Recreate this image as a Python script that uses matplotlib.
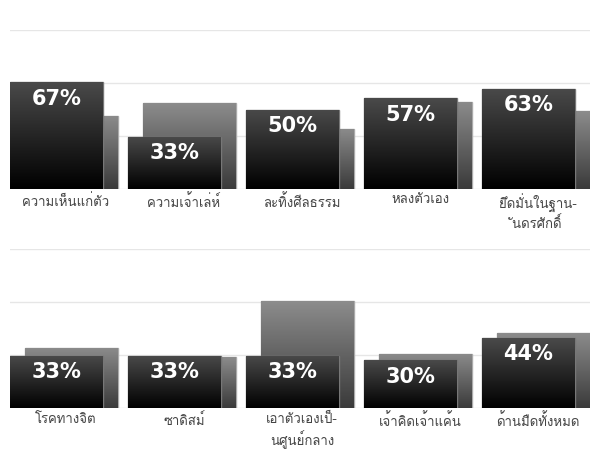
import matplotlib
matplotlib.use("Agg")
import matplotlib.pyplot as plt
from matplotlib import font_manager
import numpy as np
from matplotlib.colors import LinearSegmentedColormap

def find_thai():
    try:
        from fontTools.ttLib import TTFont
    except Exception:
        return []
    found = []
    for f in font_manager.fontManager.ttflist:
        if f.name in found:
            continue
        try:
            tt = TTFont(f.fname, fontNumber=0, lazy=True)
            if 0x0E01 in tt.getBestCmap():
                found.append(f.name)
        except Exception:
            pass
    return found

thai = find_thai()
plt.rcParams['font.family'] = thai[:1] + ['Noto Sans', 'DejaVu Sans']

top_categories = ["ความเห็นแก่ตัว", "ความเจ้าเล่ห์", "ละทิ้งศีลธรรม", "หลงตัวเอง", "ยึดมั่นในฐาน-\nันดรศักดิ์"]
top_front = [67, 33, 50, 57, 63]
top_back = [46, 54, 38, 55, 49]
bottom_categories = ["โรคทางจิต", "ซาดิสม์", "เอาตัวเองเป็-\nนศูนย์กลาง", "เจ้าคิดเจ้าแค้น", "ด้านมืดทั้งหมด"]
bottom_front = [33, 33, 33, 30, 44]
bottom_back = [38, 32, 67, 34, 47]

fig = plt.figure(figsize=(5.97, 4.70), dpi=100)
grad = np.linspace(0, 1, 256).reshape(-1, 1)

def gradbar(ax, rect, top_col, bot_col, z):
    x, w, h = rect.get_x(), rect.get_width(), rect.get_height()
    cm = LinearSegmentedColormap.from_list("g", [bot_col, top_col])
    im = ax.imshow(grad, extent=[x, x + w, 0, h], origin='lower', cmap=cm,
                   aspect='auto', zorder=z, interpolation='bicubic')
    im.set_clip_path(rect)

def panel(bottom, cats, front, back):
    ax = fig.add_axes([10/597, bottom, 580/597, 159/470])
    step, w, off = 118, 93, 15
    xs = np.arange(len(cats)) * step
    bb = ax.bar(xs + off, back, width=w, align='edge', color='#666666',
                edgecolor='#aaaaaa', linewidth=1, zorder=2)
    for r in bb:
        gradbar(ax, r, '#8c8c8c', '#3a3a3a', 2.5)
    fb = ax.bar(xs, front, width=w, align='edge', color='#222222',
                edgecolor='#777777', linewidth=1, zorder=3)
    for r in fb:
        gradbar(ax, r, '#4a4a4a', '#000000', 3.5)
    for x, v in zip(xs, front):
        ax.text(x + w/2, v - 4, f"{v}%", ha='center', va='top', color='white',
                fontsize=15, fontweight='bold', family='DejaVu Sans', zorder=5)
    for x, c in zip(xs, cats):
        ax.text(x + 56, -3, c, ha='center', va='top', fontsize=9.5, color='#444444',
                linespacing=1.3, zorder=5)
    ax.set_xlim(0, 580)
    ax.set_ylim(0, 100)
    for g in [0, 100/3, 200/3, 100]:
        ax.axhline(g, color='#e6e6e6', linewidth=1, zorder=1)
    ax.axis('off')
    return ax

panel(1 - 189/470, top_categories, top_front, top_back)
panel(1 - 408/470, bottom_categories, bottom_front, bottom_back)

fig.savefig("out.png", dpi=100)
